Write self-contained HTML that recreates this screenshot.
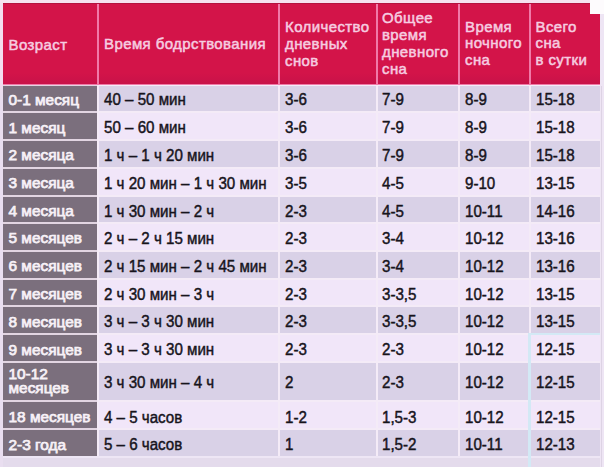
<!DOCTYPE html><html><head><meta charset="utf-8"><style>
html,body{margin:0;padding:0}
body{width:604px;height:467px;position:relative;overflow:hidden;background:#EDE4F2;font-family:"Liberation Sans",sans-serif}
.r{position:absolute}
.t{position:absolute;white-space:nowrap;line-height:20px}
.h{font-size:15px;font-weight:normal;letter-spacing:0.4px;color:#F6CDE0;-webkit-text-stroke:0.5px #F6CDE0}
.b{font-size:16px;color:#17141C;-webkit-text-stroke:0.45px #17141C;transform:scaleX(0.945);transform-origin:0 0}
.c{font-size:15.4px;font-weight:normal;letter-spacing:0px;color:#F7F1F7;-webkit-text-stroke:0.75px #F7F1F7}

</style></head><body>
<div class="r" style="left:0;top:0;width:3px;height:467px;background:linear-gradient(#F4DDEF 0,#F4DDEF 80px,#E9DEF0 95px,#E9DEF0 467px)"></div>
<div class="r" style="left:0;top:0;width:604px;height:3px;background:#F6E2F0"></div>
<div class="r" style="left:3px;top:3px;width:597px;height:83px;background:#F07AA8"></div>
<div class="r" style="left:3px;top:3px;width:94px;height:81px;background:linear-gradient(#D31449 0,#D31449 70px,#C81249 81px)"></div>
<div class="r" style="left:99px;top:3px;width:179px;height:81px;background:linear-gradient(#D31449 0,#D31449 70px,#C81249 81px)"></div>
<div class="r" style="left:280px;top:3px;width:96px;height:81px;background:linear-gradient(#D31449 0,#D31449 70px,#C81249 81px)"></div>
<div class="r" style="left:378px;top:3px;width:80px;height:81px;background:linear-gradient(#D31449 0,#D31449 70px,#C81249 81px)"></div>
<div class="r" style="left:460px;top:3px;width:69px;height:81px;background:linear-gradient(#D31449 0,#D31449 70px,#C81249 81px)"></div>
<div class="r" style="left:531px;top:3px;width:69px;height:81px;background:linear-gradient(#D31449 0,#D31449 70px,#C81249 81px)"></div>
<div class="r" style="left:3px;top:3px;width:597px;height:1px;background:#B4123F"></div>
<div class="r" style="left:590px;top:0;width:14px;height:14px;background:#FDFBFD"></div>
<div class="r" style="left:3px;top:85px;width:94px;height:371px;background:#E2D5E2"></div>
<div class="r" style="left:97px;top:85px;width:503px;height:382px;background:#F4EBF7"></div>
<div class="r" style="left:3px;top:86px;width:94px;height:25px;background:#7B6F7D"></div>
<div class="r" style="left:99px;top:86px;width:179px;height:25px;background:#D9D1E7"></div>
<div class="r" style="left:280px;top:86px;width:96px;height:25px;background:#D9D1E7"></div>
<div class="r" style="left:378px;top:86px;width:80px;height:25px;background:#D9D1E7"></div>
<div class="r" style="left:460px;top:86px;width:69px;height:25px;background:#D9D1E7"></div>
<div class="r" style="left:531px;top:86px;width:69px;height:25px;background:#D9D1E7"></div>
<div class="r" style="left:3px;top:113px;width:94px;height:26px;background:#7B6F7D"></div>
<div class="r" style="left:99px;top:113px;width:179px;height:26px;background:#F1E6F9"></div>
<div class="r" style="left:280px;top:113px;width:96px;height:26px;background:#F1E6F9"></div>
<div class="r" style="left:378px;top:113px;width:80px;height:26px;background:#F1E6F9"></div>
<div class="r" style="left:460px;top:113px;width:69px;height:26px;background:#F1E6F9"></div>
<div class="r" style="left:531px;top:113px;width:69px;height:26px;background:#F1E6F9"></div>
<div class="r" style="left:3px;top:141px;width:94px;height:26px;background:#7B6F7D"></div>
<div class="r" style="left:99px;top:141px;width:179px;height:26px;background:#D9D1E7"></div>
<div class="r" style="left:280px;top:141px;width:96px;height:26px;background:#D9D1E7"></div>
<div class="r" style="left:378px;top:141px;width:80px;height:26px;background:#D9D1E7"></div>
<div class="r" style="left:460px;top:141px;width:69px;height:26px;background:#D9D1E7"></div>
<div class="r" style="left:531px;top:141px;width:69px;height:26px;background:#D9D1E7"></div>
<div class="r" style="left:3px;top:169px;width:94px;height:26px;background:#7B6F7D"></div>
<div class="r" style="left:99px;top:169px;width:179px;height:26px;background:#F1E6F9"></div>
<div class="r" style="left:280px;top:169px;width:96px;height:26px;background:#F1E6F9"></div>
<div class="r" style="left:378px;top:169px;width:80px;height:26px;background:#F1E6F9"></div>
<div class="r" style="left:460px;top:169px;width:69px;height:26px;background:#F1E6F9"></div>
<div class="r" style="left:531px;top:169px;width:69px;height:26px;background:#F1E6F9"></div>
<div class="r" style="left:3px;top:197px;width:94px;height:25px;background:#7B6F7D"></div>
<div class="r" style="left:99px;top:197px;width:179px;height:25px;background:#D9D1E7"></div>
<div class="r" style="left:280px;top:197px;width:96px;height:25px;background:#D9D1E7"></div>
<div class="r" style="left:378px;top:197px;width:80px;height:25px;background:#D9D1E7"></div>
<div class="r" style="left:460px;top:197px;width:69px;height:25px;background:#D9D1E7"></div>
<div class="r" style="left:531px;top:197px;width:69px;height:25px;background:#D9D1E7"></div>
<div class="r" style="left:3px;top:224px;width:94px;height:26px;background:#7B6F7D"></div>
<div class="r" style="left:99px;top:224px;width:179px;height:26px;background:#F1E6F9"></div>
<div class="r" style="left:280px;top:224px;width:96px;height:26px;background:#F1E6F9"></div>
<div class="r" style="left:378px;top:224px;width:80px;height:26px;background:#F1E6F9"></div>
<div class="r" style="left:460px;top:224px;width:69px;height:26px;background:#F1E6F9"></div>
<div class="r" style="left:531px;top:224px;width:69px;height:26px;background:#F1E6F9"></div>
<div class="r" style="left:3px;top:252px;width:94px;height:26px;background:#7B6F7D"></div>
<div class="r" style="left:99px;top:252px;width:179px;height:26px;background:#D9D1E7"></div>
<div class="r" style="left:280px;top:252px;width:96px;height:26px;background:#D9D1E7"></div>
<div class="r" style="left:378px;top:252px;width:80px;height:26px;background:#D9D1E7"></div>
<div class="r" style="left:460px;top:252px;width:69px;height:26px;background:#D9D1E7"></div>
<div class="r" style="left:531px;top:252px;width:69px;height:26px;background:#D9D1E7"></div>
<div class="r" style="left:3px;top:280px;width:94px;height:25px;background:#7B6F7D"></div>
<div class="r" style="left:99px;top:280px;width:179px;height:25px;background:#F1E6F9"></div>
<div class="r" style="left:280px;top:280px;width:96px;height:25px;background:#F1E6F9"></div>
<div class="r" style="left:378px;top:280px;width:80px;height:25px;background:#F1E6F9"></div>
<div class="r" style="left:460px;top:280px;width:69px;height:25px;background:#F1E6F9"></div>
<div class="r" style="left:531px;top:280px;width:69px;height:25px;background:#F1E6F9"></div>
<div class="r" style="left:3px;top:307px;width:94px;height:26px;background:#7B6F7D"></div>
<div class="r" style="left:99px;top:307px;width:179px;height:26px;background:#D9D1E7"></div>
<div class="r" style="left:280px;top:307px;width:96px;height:26px;background:#D9D1E7"></div>
<div class="r" style="left:378px;top:307px;width:80px;height:26px;background:#D9D1E7"></div>
<div class="r" style="left:460px;top:307px;width:69px;height:26px;background:#D9D1E7"></div>
<div class="r" style="left:531px;top:307px;width:69px;height:26px;background:#D9D1E7"></div>
<div class="r" style="left:3px;top:335px;width:94px;height:26px;background:#7B6F7D"></div>
<div class="r" style="left:99px;top:335px;width:179px;height:26px;background:#F1E6F9"></div>
<div class="r" style="left:280px;top:335px;width:96px;height:26px;background:#F1E6F9"></div>
<div class="r" style="left:378px;top:335px;width:80px;height:26px;background:#F1E6F9"></div>
<div class="r" style="left:460px;top:335px;width:69px;height:26px;background:#F1E6F9"></div>
<div class="r" style="left:531px;top:335px;width:69px;height:26px;background:#F1E6F9"></div>
<div class="r" style="left:3px;top:363px;width:94px;height:37px;background:#7B6F7D"></div>
<div class="r" style="left:99px;top:363px;width:179px;height:37px;background:#D9D1E7"></div>
<div class="r" style="left:280px;top:363px;width:96px;height:37px;background:#D9D1E7"></div>
<div class="r" style="left:378px;top:363px;width:80px;height:37px;background:#D9D1E7"></div>
<div class="r" style="left:460px;top:363px;width:69px;height:37px;background:#D9D1E7"></div>
<div class="r" style="left:531px;top:363px;width:69px;height:37px;background:#D9D1E7"></div>
<div class="r" style="left:3px;top:402px;width:94px;height:26px;background:#7B6F7D"></div>
<div class="r" style="left:99px;top:402px;width:179px;height:26px;background:#F1E6F9"></div>
<div class="r" style="left:280px;top:402px;width:96px;height:26px;background:#F1E6F9"></div>
<div class="r" style="left:378px;top:402px;width:80px;height:26px;background:#F1E6F9"></div>
<div class="r" style="left:460px;top:402px;width:69px;height:26px;background:#F1E6F9"></div>
<div class="r" style="left:531px;top:402px;width:69px;height:26px;background:#F1E6F9"></div>
<div class="r" style="left:3px;top:430px;width:94px;height:26px;background:#7B6F7D"></div>
<div class="r" style="left:99px;top:430px;width:179px;height:27px;background:#D9D1E7"></div>
<div class="r" style="left:280px;top:430px;width:96px;height:27px;background:#D9D1E7"></div>
<div class="r" style="left:378px;top:430px;width:80px;height:27px;background:#D9D1E7"></div>
<div class="r" style="left:460px;top:430px;width:69px;height:27px;background:#D9D1E7"></div>
<div class="r" style="left:531px;top:430px;width:69px;height:27px;background:#D9D1E7"></div>
<div class="r" style="left:3px;top:456px;width:597px;height:2px;background:#EEE6F5"></div>
<div class="r" style="left:3px;top:458px;width:597px;height:9px;background:#E4DBEC"></div>
<div class="r" style="left:600px;top:14px;width:4px;height:453px;background:#EEE5F4"></div>
<div class="r" style="left:601px;top:86px;width:1px;height:381px;background:#DDD3E4"></div>
<div class="r" style="left:528px;top:333px;width:3px;height:134px;background:#D3E9F5"></div>
<div class="r" style="left:528px;top:333px;width:72px;height:2px;background:#D3E9F5"></div>
<div class="t h" style="left:8.5px;top:34.80px">Возраст</div>
<div class="t h" style="left:104px;top:34.10px">Время бодрствования</div>
<div class="t h" style="left:285px;top:17.10px">Количество</div>
<div class="t h" style="left:285px;top:34.10px">дневных</div>
<div class="t h" style="left:285px;top:51.10px">снов</div>
<div class="t h" style="left:382px;top:8.30px">Общее</div>
<div class="t h" style="left:382px;top:25.30px">время</div>
<div class="t h" style="left:382px;top:42.10px">дневного</div>
<div class="t h" style="left:382px;top:58.60px">сна</div>
<div class="t h" style="left:465px;top:16.80px">Время</div>
<div class="t h" style="left:465px;top:33.10px">ночного</div>
<div class="t h" style="left:465px;top:50.10px">сна</div>
<div class="t h" style="left:535.5px;top:16.80px">Всего</div>
<div class="t h" style="left:535.5px;top:33.10px">сна</div>
<div class="t h" style="left:535.5px;top:50.10px">в сутки</div>
<div class="t c" style="left:8.5px;top:89.76px">0-1 месяц</div>
<div class="t b" style="left:104px;top:90.26px">40 – 50 мин</div>
<div class="t b" style="left:285px;top:90.26px">3-6</div>
<div class="t b" style="left:382px;top:90.26px">7-9</div>
<div class="t b" style="left:465px;top:90.26px">8-9</div>
<div class="t b" style="left:535.5px;top:90.26px">15-18</div>
<div class="t c" style="left:8.5px;top:117.56px">1 месяц</div>
<div class="t b" style="left:104px;top:118.06px">50 – 60 мин</div>
<div class="t b" style="left:285px;top:118.06px">3-6</div>
<div class="t b" style="left:382px;top:118.06px">7-9</div>
<div class="t b" style="left:465px;top:118.06px">8-9</div>
<div class="t b" style="left:535.5px;top:118.06px">15-18</div>
<div class="t c" style="left:8.5px;top:145.26px">2 месяца</div>
<div class="t b" style="left:104px;top:145.76px">1 ч – 1 ч 20 мин</div>
<div class="t b" style="left:285px;top:145.76px">3-6</div>
<div class="t b" style="left:382px;top:145.76px">7-9</div>
<div class="t b" style="left:465px;top:145.76px">8-9</div>
<div class="t b" style="left:535.5px;top:145.76px">15-18</div>
<div class="t c" style="left:8.5px;top:173.26px">3 месяца</div>
<div class="t b" style="left:104px;top:173.76px">1 ч 20 мин – 1 ч 30 мин</div>
<div class="t b" style="left:285px;top:173.76px">3-5</div>
<div class="t b" style="left:382px;top:173.76px">4-5</div>
<div class="t b" style="left:465px;top:173.76px">9-10</div>
<div class="t b" style="left:535.5px;top:173.76px">13-15</div>
<div class="t c" style="left:8.5px;top:201.06px">4 месяца</div>
<div class="t b" style="left:104px;top:201.56px">1 ч 30 мин – 2 ч</div>
<div class="t b" style="left:285px;top:201.56px">2-3</div>
<div class="t b" style="left:382px;top:201.56px">4-5</div>
<div class="t b" style="left:465px;top:201.56px">10-11</div>
<div class="t b" style="left:535.5px;top:201.56px">14-16</div>
<div class="t c" style="left:8.5px;top:228.26px">5 месяцев</div>
<div class="t b" style="left:104px;top:228.76px">2 ч – 2 ч 15 мин</div>
<div class="t b" style="left:285px;top:228.76px">2-3</div>
<div class="t b" style="left:382px;top:228.76px">3-4</div>
<div class="t b" style="left:465px;top:228.76px">10-12</div>
<div class="t b" style="left:535.5px;top:228.76px">13-16</div>
<div class="t c" style="left:8.5px;top:256.06px">6 месяцев</div>
<div class="t b" style="left:104px;top:256.56px">2 ч 15 мин – 2 ч 45 мин</div>
<div class="t b" style="left:285px;top:256.56px">2-3</div>
<div class="t b" style="left:382px;top:256.56px">3-4</div>
<div class="t b" style="left:465px;top:256.56px">10-12</div>
<div class="t b" style="left:535.5px;top:256.56px">13-16</div>
<div class="t c" style="left:8.5px;top:284.06px">7 месяцев</div>
<div class="t b" style="left:104px;top:284.56px">2 ч 30 мин – 3 ч</div>
<div class="t b" style="left:285px;top:284.56px">2-3</div>
<div class="t b" style="left:382px;top:284.56px">3-3,5</div>
<div class="t b" style="left:465px;top:284.56px">10-12</div>
<div class="t b" style="left:535.5px;top:284.56px">13-15</div>
<div class="t c" style="left:8.5px;top:311.76px">8 месяцев</div>
<div class="t b" style="left:104px;top:312.26px">3 ч – 3 ч 30 мин</div>
<div class="t b" style="left:285px;top:312.26px">2-3</div>
<div class="t b" style="left:382px;top:312.26px">3-3,5</div>
<div class="t b" style="left:465px;top:312.26px">10-12</div>
<div class="t b" style="left:535.5px;top:312.26px">13-15</div>
<div class="t c" style="left:8.5px;top:339.56px">9 месяцев</div>
<div class="t b" style="left:104px;top:340.06px">3 ч – 3 ч 30 мин</div>
<div class="t b" style="left:285px;top:340.06px">2-3</div>
<div class="t b" style="left:382px;top:340.06px">2-3</div>
<div class="t b" style="left:465px;top:340.06px">10-12</div>
<div class="t b" style="left:535.5px;top:340.06px">12-15</div>
<div class="t c" style="left:8.5px;top:363.96px">10-12</div>
<div class="t c" style="left:8.5px;top:378.26px">месяцев</div>
<div class="t b" style="left:104px;top:372.56px">3 ч 30 мин – 4 ч</div>
<div class="t b" style="left:285px;top:372.56px">2</div>
<div class="t b" style="left:382px;top:372.56px">2-3</div>
<div class="t b" style="left:465px;top:372.56px">10-12</div>
<div class="t b" style="left:535.5px;top:372.56px">12-15</div>
<div class="t c" style="left:8.5px;top:407.06px">18 месяцев</div>
<div class="t b" style="left:104px;top:407.56px">4 – 5 часов</div>
<div class="t b" style="left:285px;top:407.56px">1-2</div>
<div class="t b" style="left:382px;top:407.56px">1,5-3</div>
<div class="t b" style="left:465px;top:407.56px">10-12</div>
<div class="t b" style="left:535.5px;top:407.56px">12-15</div>
<div class="t c" style="left:8.5px;top:434.56px">2-3 года</div>
<div class="t b" style="left:104px;top:435.06px">5 – 6 часов</div>
<div class="t b" style="left:285px;top:435.06px">1</div>
<div class="t b" style="left:382px;top:435.06px">1,5-2</div>
<div class="t b" style="left:465px;top:435.06px">10-11</div>
<div class="t b" style="left:535.5px;top:435.06px">12-13</div>
</body></html>
